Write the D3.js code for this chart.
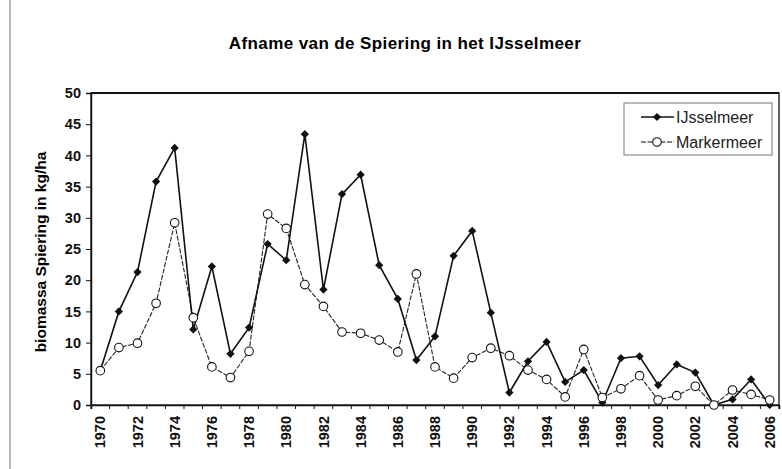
<!DOCTYPE html>
<html>
<head>
<meta charset="utf-8">
<script src="https://cdn.jsdelivr.net/npm/d3@7"></script>
<style>
  html, body { margin: 0; padding: 0; background: #fff; }
  svg { display: block; font-family: "Liberation Sans", Arial, sans-serif; }
</style>
</head>
<body>
<svg id="chart" width="782" height="469"></svg>
<script>
// Jaarlijkse biomassa spiering (kg/ha)
const years = d3.range(1970, 2007);
const ijsselmeer = [5.5, 15.0, 21.3, 35.8, 41.2, 12.1, 22.2, 8.2, 12.4, 25.8,
  23.2, 43.4, 18.5, 33.8, 36.9, 22.4, 17.0, 7.2, 11.0, 23.9,
  27.9, 14.8, 2.0, 7.0, 10.1, 3.7, 5.6, 0.4, 7.5, 7.8,
  3.2, 6.5, 5.2, 0.0, 0.9, 4.1, 0.0];
const markermeer = [5.5, 9.2, 9.9, 16.3, 29.2, 14.0, 6.1, 4.4, 8.6, 30.6,
  28.3, 19.3, 15.8, 11.7, 11.5, 10.4, 8.5, 21.0, 6.1, 4.3,
  7.6, 9.1, 7.9, 5.6, 4.1, 1.3, 8.9, 1.2, 2.6, 4.7,
  0.8, 1.5, 3.0, 0.0, 2.4, 1.7, 0.8];
const yTicks = d3.range(0, 51, 5);
const seriesNames = ["IJsselmeer", "Markermeer"];
const titleText = "Afname van de Spiering in het IJsselmeer";
const yTitle = "biomassa Spiering in kg/ha";

const svg = d3.select("#chart");
const plot = { left: 91, right: 779, top: 93, bottom: 405 };

const x = d3.scaleBand().domain(years).range([plot.left, plot.right]);
const y = d3.scaleLinear().domain([0, 50]).range([plot.bottom, plot.top]);
const cx = d => x(d) + x.bandwidth() / 2;

// linker kaderlijn van de grafiek
svg.append("line")
  .attr("x1", 10).attr("x2", 10).attr("y1", 0).attr("y2", 469)
  .attr("stroke", "#8a8a8a").attr("stroke-width", 1.2);

// titel
svg.append("text")
  .attr("x", 405).attr("y", 49)
  .attr("text-anchor", "middle")
  .attr("font-weight", "bold").attr("font-size", 17)
  .attr("letter-spacing", 0.4)
  .text(titleText);

// plotgebied
svg.append("rect")
  .attr("x", plot.left).attr("y", plot.top)
  .attr("width", plot.right - plot.left).attr("height", plot.bottom - plot.top)
  .attr("fill", "#fff").attr("stroke", "#111").attr("stroke-width", 1.3);
svg.append("line")
  .attr("x1", plot.left).attr("x2", plot.right)
  .attr("y1", plot.top).attr("y2", plot.top)
  .attr("stroke", "#111").attr("stroke-width", 2);

// y-as
const yAxis = svg.append("g")
  .attr("transform", `translate(${plot.left},0)`)
  .call(d3.axisLeft(y).tickValues(yTicks).tickSize(5).tickPadding(5));
yAxis.select(".domain").attr("stroke", "#111").attr("stroke-width", 1.5);
yAxis.selectAll(".tick line").attr("stroke", "#111");
yAxis.selectAll("text")
  .attr("font-family", "Liberation Sans, Arial, sans-serif")
  .attr("font-size", 14.5).attr("font-weight", "bold").attr("fill", "#111");

// x-as: streepjes op de grenzen tussen de jaren, labels om het jaar
const xAxis = svg.append("g")
  .attr("transform", `translate(0,${plot.bottom})`)
  .call(d3.axisBottom(x).tickSize(4)
    .tickFormat(d => (d % 2 === 0 ? String(d) : "")));
xAxis.select(".domain").attr("stroke", "#111").attr("stroke-width", 1.5);
xAxis.selectAll(".tick line")
  .attr("x1", -x.bandwidth() / 2).attr("x2", -x.bandwidth() / 2)
  .attr("stroke", "#111");
xAxis.append("line")
  .attr("x1", plot.right).attr("x2", plot.right).attr("y1", 0).attr("y2", 4)
  .attr("stroke", "#111");
xAxis.selectAll(".tick text")
  .attr("font-family", "Liberation Sans, Arial, sans-serif")
  .attr("font-size", 14.5).attr("font-weight", "bold").attr("fill", "#111")
  .attr("transform", "rotate(-90)")
  .attr("text-anchor", "end")
  .attr("x", -11).attr("y", 0).attr("dy", "0.35em");

// y-astitel
svg.append("text")
  .attr("transform", `translate(46,${(plot.top + plot.bottom) / 2 + 3}) rotate(-90)`)
  .attr("text-anchor", "middle")
  .attr("font-weight", "bold").attr("font-size", 15.5)
  .text(yTitle);

// lijnen
const line = d3.line().x((d, i) => cx(years[i])).y(d => y(d));
svg.append("path").datum(markermeer)
  .attr("d", line).attr("fill", "none")
  .attr("stroke", "#222").attr("stroke-width", 1.1)
  .attr("stroke-dasharray", "5,1.5");
svg.append("path").datum(ijsselmeer)
  .attr("d", line).attr("fill", "none")
  .attr("stroke", "#111").attr("stroke-width", 1.6);

// markers: gevulde ruit en open rondje
const diamond = d3.symbol().type(d3.symbolSquare).size(34);
svg.append("g").selectAll("path").data(ijsselmeer).join("path")
  .attr("d", diamond)
  .attr("transform", (d, i) => `translate(${cx(years[i])},${y(d)}) rotate(45)`)
  .attr("fill", "#111");
svg.append("g").selectAll("circle").data(markermeer).join("circle")
  .attr("cx", (d, i) => cx(years[i])).attr("cy", d => y(d))
  .attr("r", 4.3)
  .attr("fill", "#fff").attr("stroke", "#111").attr("stroke-width", 1.1);

// legenda
const lg = svg.append("g").attr("transform", "translate(624,103)");
lg.append("rect").attr("width", 148).attr("height", 52)
  .attr("fill", "#fff").attr("stroke", "#777").attr("stroke-width", 1);
seriesNames.forEach((name, i) => {
  const row = lg.append("g").attr("transform", `translate(0,${14 + i * 25})`);
  row.append("line").attr("x1", 17).attr("x2", 50).attr("y1", 0).attr("y2", 0)
    .attr("stroke", "#111").attr("stroke-width", i === 0 ? 1.6 : 1.1)
    .attr("stroke-dasharray", i === 0 ? null : "5,1.5");
  if (i === 0) {
    row.append("path").attr("d", diamond).attr("transform", "translate(33,0) rotate(45)").attr("fill", "#111");
  } else {
    row.append("circle").attr("cx", 33).attr("cy", 0).attr("r", 4.3)
      .attr("fill", "#fff").attr("stroke", "#111").attr("stroke-width", 1.1);
  }
  row.append("text").attr("x", 52).attr("y", 0).attr("dy", "0.35em")
    .attr("font-size", 16).attr("fill", "#222").text(name);
});
</script>
</body>
</html>
